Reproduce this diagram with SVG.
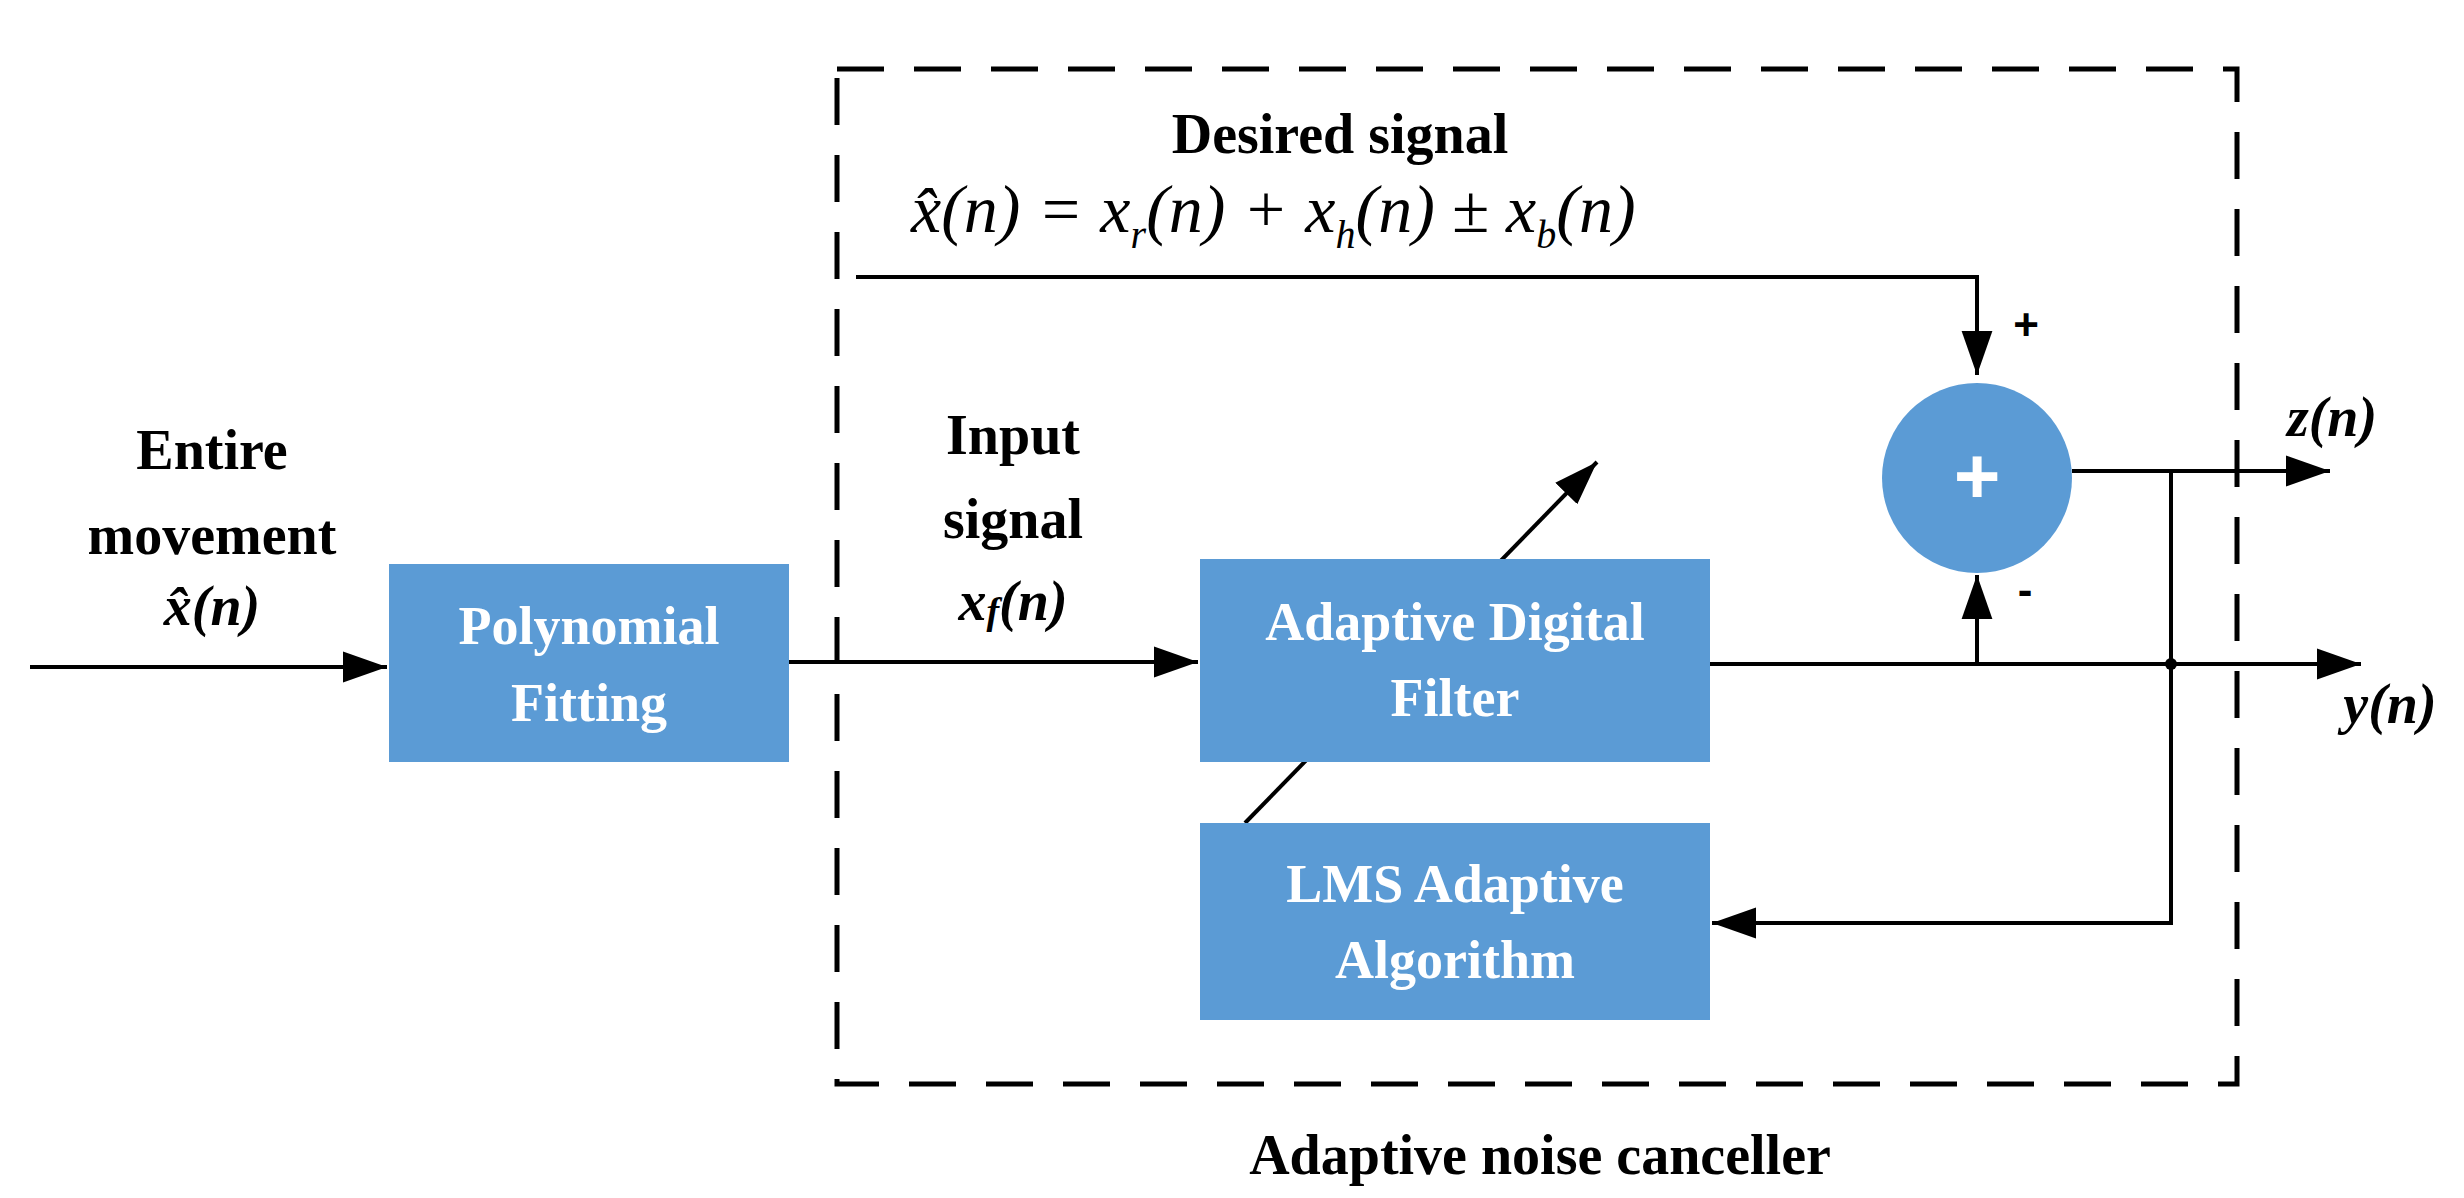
<svg xmlns="http://www.w3.org/2000/svg" width="2464" height="1198" viewBox="0 0 2464 1198">
<style>
.box{fill:#5B9BD5}
.bt{font-family:"Liberation Serif",serif;font-weight:bold;font-size:54px;fill:#fff;text-anchor:middle}
.lb{font-family:"Liberation Serif",serif;font-weight:bold;font-size:56px;fill:#000;text-anchor:middle}
.m{font-family:"Liberation Serif",serif;font-style:italic;font-weight:bold;font-size:56px;fill:#000;text-anchor:middle}
.ln{stroke:#000;stroke-width:4;fill:none}
</style>
<defs>
<marker id="a" viewBox="0 0 10 10" refX="10" refY="5" markerWidth="12" markerHeight="12" markerUnits="userSpaceOnUse" orient="auto"><path d="M0,0L10,5L0,10z" fill="#000"/></marker>
<marker id="ah" viewBox="0 0 10 10" refX="10" refY="5" markerWidth="11" markerHeight="11" orient="auto"><path d="M0,1.5L10,5L0,8.5z" fill="#000"/></marker>
</defs>
<rect x="837" y="69" width="1400" height="1015" fill="none" stroke="#000" stroke-width="5" stroke-dasharray="47,30"/>
<g id="connectors">
<line class="ln" x1="30" y1="667" x2="387" y2="667" marker-end="url(#ah)"/>
<line class="ln" x1="789" y1="662" x2="1198" y2="662" marker-end="url(#ah)"/>
<polyline class="ln" points="856,277 1977,277 1977,375" marker-end="url(#ah)"/>
<line class="ln" x1="1710" y1="664" x2="2361" y2="664" marker-end="url(#ah)"/>
<line class="ln" x1="1977" y1="664" x2="1977" y2="575" marker-end="url(#ah)"/>
<line class="ln" x1="2072" y1="471" x2="2330" y2="471" marker-end="url(#ah)"/>
<polyline class="ln" points="2171,471 2171,923 1712,923" marker-end="url(#ah)"/>
<circle cx="2171" cy="664" r="6" fill="#000"/>
<line class="ln" x1="1245" y1="823" x2="1597" y2="462" marker-end="url(#ah)"/>
</g>
<g id="poly"><rect class="box" x="389" y="564" width="400" height="198"/><text class="bt" x="589" y="644">Polynomial</text><text class="bt" x="589" y="721">Fitting</text></g>
<g id="adf"><rect class="box" x="1200" y="559" width="510" height="203"/><text class="bt" x="1455" y="640">Adaptive Digital</text><text class="bt" x="1455" y="716">Filter</text></g>
<g id="lms"><rect class="box" x="1200" y="823" width="510" height="197"/><text class="bt" x="1455" y="902">LMS Adaptive</text><text class="bt" x="1455" y="978">Algorithm</text></g>
<g id="sum"><circle cx="1977" cy="478" r="95" fill="#5B9BD5"/><text x="1977" y="503" font-family="Liberation Sans,sans-serif" font-weight="bold" font-size="80" fill="#fff" text-anchor="middle">+</text></g>
<text x="2026" y="340" font-family="Liberation Sans,sans-serif" font-weight="bold" font-size="44" text-anchor="middle">+</text>
<text x="2025" y="605" font-family="Liberation Sans,sans-serif" font-weight="bold" font-size="44" text-anchor="middle">-</text>
<text class="lb" x="1340" y="153">Desired signal</text>
<text x="911" y="232" font-family="Liberation Serif,serif" font-style="italic" font-size="68">x̂(n) = x<tspan font-size="40" dy="16">r</tspan><tspan dy="-16">(n) + x</tspan><tspan font-size="40" dy="16">h</tspan><tspan dy="-16">(n) ± x</tspan><tspan font-size="40" dy="16">b</tspan><tspan dy="-16">(n)</tspan></text>
<text class="lb" x="212" y="469">Entire</text>
<text class="lb" x="212" y="554">movement</text>
<text class="m" x="212" y="625">x̂(n)</text>
<text class="lb" x="1013" y="454">Input</text>
<text class="lb" x="1013" y="538">signal</text>
<text class="m" x="1013" y="620">x<tspan font-size="38" dy="4">f</tspan><tspan dy="-4">(n)</tspan></text>
<text class="m" x="2332" y="436">z(n)</text>
<text class="m" x="2390" y="723">y(n)</text>
<text class="lb" x="1540" y="1174" font-size="60">Adaptive noise canceller</text>
</svg>
